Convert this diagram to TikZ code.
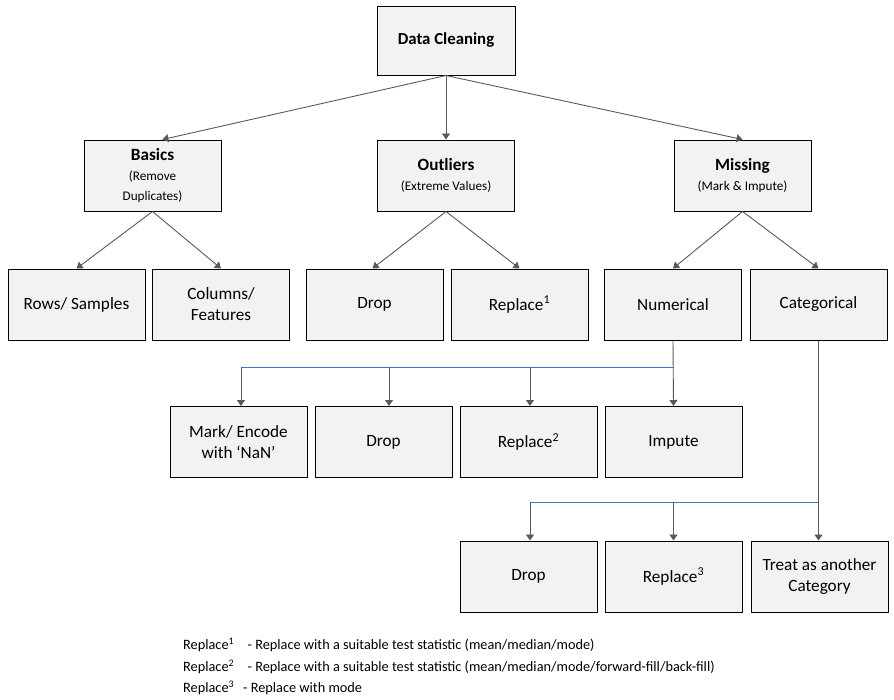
\documentclass[tikz,border=0pt]{standalone}
\usepackage{fontspec}
\setmainfont{Carlito}
\usetikzlibrary{arrows.meta}
\definecolor{boxfill}{HTML}{F2F2F2}
\definecolor{lnk}{HTML}{595959}
\definecolor{blu}{HTML}{4472C4}
\newcommand{\smallf}{\fontsize{13.2}{19}\selectfont}
\begin{document}
\begin{tikzpicture}[x=1pt,y=-1pt,
  box/.style={draw=black, line width=1pt, fill=boxfill, minimum width=137pt, minimum height=71pt, align=center, inner sep=2pt, font=\fontsize{17.2}{21}\selectfont},
  conn/.style={draw=lnk, line width=0.9pt, -{Triangle[width=8pt,length=6pt]}},
  bline/.style={draw=blu, line width=0.9pt},
  legend/.style={anchor=west, inner sep=0pt, font=\fontsize{14.3}{16}\selectfont}
]
\useasboundingbox (0,0) rectangle (894,699);
% top
\node[box, minimum height=69pt, minimum width=138pt, font=\fontsize{16.8}{21}\selectfont] (dc) at (446,40.5) {\textbf{Data Cleaning}};
% level 2
\node[box] (bas) at (152.5,175.5) {\textbf{Basics}\\[-1pt]{\smallf (Remove}\\[-1pt]{\smallf Duplicates)}};
\node[box] (out) at (446,175.5) {\textbf{Outliers}\\[-1pt]{\smallf (Extreme Values)}};
\node[box] (mis) at (742.5,175.5) {\textbf{Missing}\\[-1pt]{\smallf (Mark \& Impute)}};
% level 3
\node[box] (rows) at (76.5,304.5) {Rows/ Samples};
\node[box] (cols) at (221,304.5) {Columns/\\Features};
\node[box] (drop1) at (374.5,304.5) {Drop};
\node[box] (rep1) at (519.5,304.5) {Replace\textsuperscript{1}};
\node[box] (num) at (673,304.5) {Numerical};
\node[box] (cat) at (818.5,304.5) {Categorical};
% level 4
\node[box] (mark) at (238.5,442) {Mark/ Encode\\with `NaN'};
\node[box] (drop2) at (383.5,442) {Drop};
\node[box] (rep2) at (528.5,442) {Replace\textsuperscript{2}};
\node[box] (imp) at (673.5,442) {Impute};
% level 5
\node[box] (drop3) at (528.5,576.5) {Drop};
\node[box] (rep3) at (673.5,576.5) {Replace\textsuperscript{3}};
\node[box] (treat) at (819.5,576.5) {Treat as another\\Category};
% connectors from top
\draw[conn] (dc.south) -- ([xshift=10pt]bas.north);
\draw[conn] (dc.south) -- (out.north);
\draw[conn] (dc.south) -- (mis.north);
\draw[conn] (bas.south) -- (rows.north);
\draw[conn] (bas.south) -- (cols.north);
\draw[conn] (out.south) -- ([xshift=-2pt]drop1.north);
\draw[conn] (out.south) -- (rep1.north);
\draw[conn] (mis.south) -- (num.north);
\draw[conn] (mis.south) -- (cat.north);
% numerical branch
\coordinate (nj) at (673.5,367);
\draw[bline] ([xshift=2.5pt]mark.north |- nj) -- (nj);
\draw[conn] (num.south) -- (imp.north);
\draw[conn] ([xshift=2.5pt]mark.north |- nj) -- ([xshift=2.5pt]mark.north);
\draw[conn] ([xshift=5.5pt]drop2.north |- nj) -- ([xshift=5.5pt]drop2.north);
\draw[conn] ([xshift=1.5pt]rep2.north |- nj) -- ([xshift=1.5pt]rep2.north);
% categorical branch
\coordinate (cj) at (818.5,502);
\draw[bline] ([xshift=1.5pt]drop3.north |- cj) -- (cj);
\draw[conn] (cat.south) -- (cat.south |- treat.north);
\draw[conn] ([xshift=1.5pt]drop3.north |- cj) -- ([xshift=1.5pt]drop3.north);
\draw[conn] (rep3.north |- cj) -- (rep3.north);
% legend
\node[legend] (l1) at (183,645) {\makebox[59pt][l]{Replace\textsuperscript{1}}\hspace{5.5pt}- Replace with a suitable test statistic (mean/median/mode)};
\node[legend] (l2) at (183,667) {\makebox[59pt][l]{Replace\textsuperscript{2}}\hspace{5.5pt}- Replace with a suitable test statistic (mean/median/mode/forward-fill/back-fill)};
\node[legend] (l3) at (183,688) {\makebox[54pt][l]{Replace\textsuperscript{3}}\hspace{6pt}- Replace with mode};
\end{tikzpicture}
\end{document}
